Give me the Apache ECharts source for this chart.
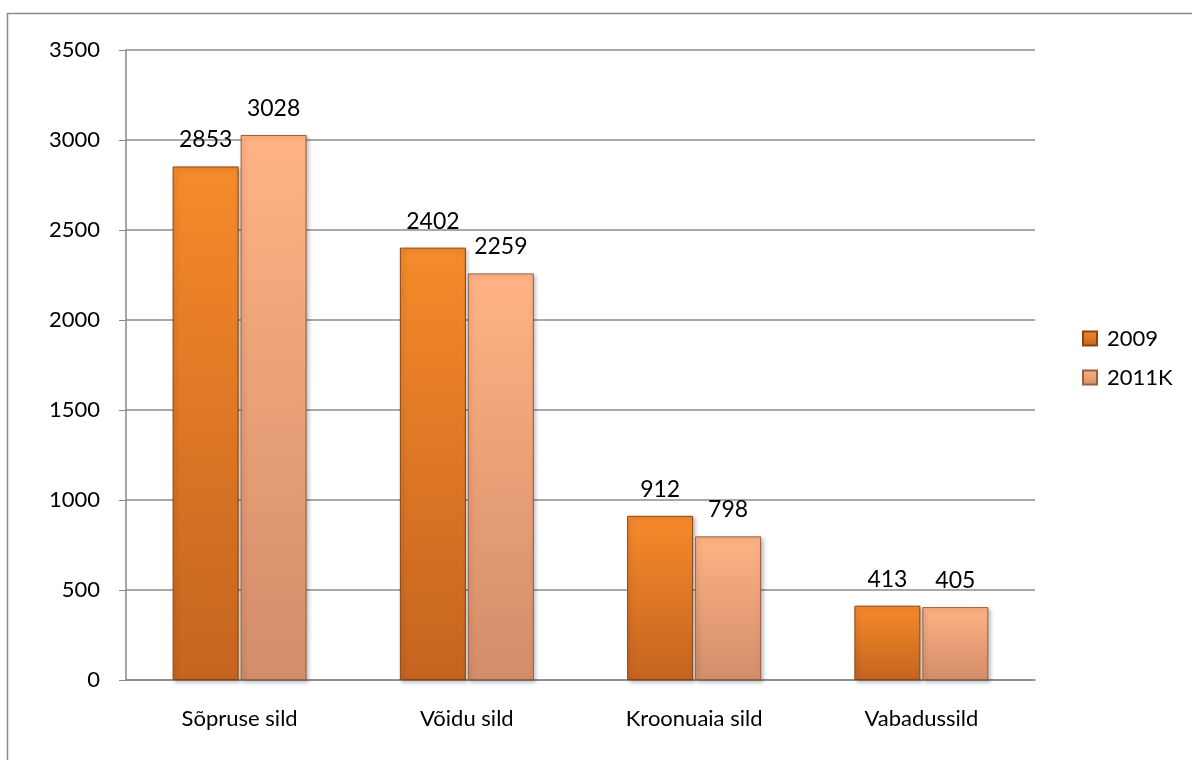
<!DOCTYPE html>
<html lang="et">
<head>
    <meta charset="UTF-8">
    <title>Sillad</title>
    <script src="https://cdn.jsdelivr.net/npm/echarts@6/dist/echarts.min.js"></script>
    <style>
        html, body { margin: 0; padding: 0; background: #fff; }
        #chart { width: 1192px; height: 760px; }
    </style>
</head>
<body>
    <div id="chart"></div>
    <script>
        // andmed
        var categories = ['Sõpruse sild', 'Võidu sild', 'Kroonuaia sild', 'Vabadussild'];
        var seriesNames = ['2009', '2011K'];
        var values2009 = [2853, 2402, 912, 413];
        var values2011K = [3028, 2259, 798, 405];
        var yTicks = [0, 500, 1000, 1500, 2000, 2500, 3000, 3500];

        var font = 'Lato, "Open Sans", sans-serif';
        var chart = echarts.init(document.getElementById('chart'));

        function grad(top, bottom) {
            return new echarts.graphic.LinearGradient(0, 0, 0, 1, [
                { offset: 0, color: top },
                { offset: 1, color: bottom }
            ]);
        }

        var option = {
            animation: false,
            graphic: [{
                type: 'rect',
                shape: { x: 7.5, y: 13.5, width: 1300, height: 900 },
                style: { fill: 'none', stroke: '#8c8c8c', lineWidth: 1.5 }
            }],
            legend: {
                orient: 'vertical',
                left: 1077,
                top: 320,
                itemGap: 12,
                itemWidth: 14,
                itemHeight: 14,
                icon: 'rect',
                data: seriesNames,
                textStyle: { fontFamily: font, fontSize: 22, lineHeight: 27, color: '#000', padding: [0, 0, 0, 5] }
            },
            grid: { left: 126, right: 157, top: 50, bottom: 80 },
            xAxis: {
                type: 'category',
                data: categories,
                axisLine: { lineStyle: { color: '#888', width: 1.5 } },
                axisTick: { length: 7, lineStyle: { color: '#888' } },
                axisLabel: { fontFamily: font, fontSize: 22, color: '#000', margin: 28 }
            },
            yAxis: {
                type: 'value',
                min: yTicks[0],
                max: yTicks[yTicks.length - 1],
                interval: 500,
                axisLine: { show: true, lineStyle: { color: '#888', width: 1.5 } },
                axisTick: { show: true, length: 7, lineStyle: { color: '#888' } },
                axisLabel: {
                    fontFamily: font, fontSize: 22, color: '#000', margin: 26,
                    formatter: function (v) { return String(v); }
                },
                splitLine: { lineStyle: { color: '#8c8c8c', width: 1.5 } }
            },
            series: [{
                name: seriesNames[0],
                type: 'bar',
                data: values2009,
                barWidth: 66,
                barGap: '3%',
                itemStyle: {
                    color: grad('#f68a2b', '#c4641f'),
                    borderColor: '#8a4510',
                    borderWidth: 1,
                    shadowColor: 'rgba(0,0,0,0.25)',
                    shadowBlur: 4,
                    shadowOffsetX: 2,
                    shadowOffsetY: 2
                },
                label: {
                    show: true,
                    position: 'top',
                    distance: 15,
                    fontFamily: font,
                    fontSize: 23,
                    color: '#000'
                }
            }, {
                name: seriesNames[1],
                type: 'bar',
                data: values2011K,
                barWidth: 66,
                itemStyle: {
                    color: grad('#ffb384', '#d38d6a'),
                    borderColor: '#94603f',
                    borderWidth: 1,
                    shadowColor: 'rgba(0,0,0,0.25)',
                    shadowBlur: 4,
                    shadowOffsetX: 2,
                    shadowOffsetY: 2
                },
                label: {
                    show: true,
                    position: 'top',
                    distance: 15,
                    fontFamily: font,
                    fontSize: 23,
                    color: '#000'
                }
            }]
        };

        chart.setOption(option);
    </script>
</body>
</html>
